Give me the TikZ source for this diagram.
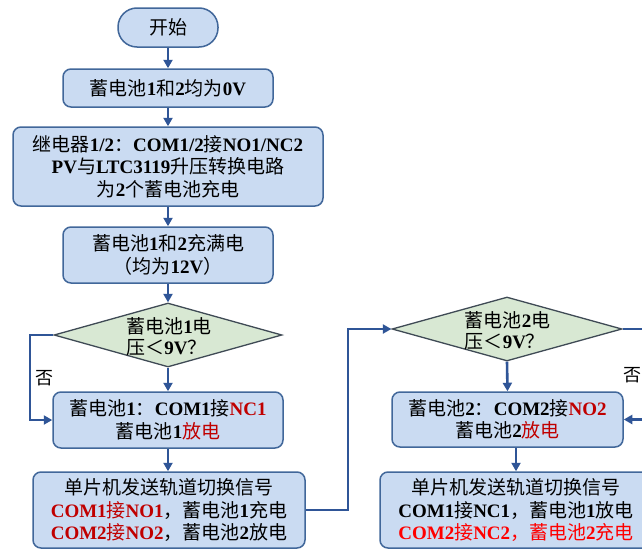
\documentclass[tikz,border=0pt]{standalone}
\usepackage{fontspec}
\setmainfont{Liberation Serif}
\newfontfamily\cjkfont{Noto Sans CJK SC}
\usetikzlibrary{arrows.meta,shapes.geometric}
\XeTeXinterchartokenstate=1
\newXeTeXintercharclass\CJKcls
\newcount\cjkcnt
\cjkcnt="4E00
\loop \XeTeXcharclass\cjkcnt=\CJKcls \advance\cjkcnt by 1 \ifnum\cjkcnt<"A000 \repeat
\cjkcnt="3000
\loop \XeTeXcharclass\cjkcnt=\CJKcls \advance\cjkcnt by 1 \ifnum\cjkcnt<"3040 \repeat
\cjkcnt="FF00
\loop \XeTeXcharclass\cjkcnt=\CJKcls \advance\cjkcnt by 1 \ifnum\cjkcnt<"FFF0 \repeat
\newcommand\zhfont{\cjkfont\mdseries}
\newcommand\enfont{\rmfamily\bfseries}
\XeTeXinterchartoks 0 \CJKcls = {\zhfont}
\XeTeXinterchartoks 4095 \CJKcls = {\zhfont}
\XeTeXinterchartoks \CJKcls 0 = {\enfont}
\XeTeXinterchartoks \CJKcls 4095 = {\enfont}
\definecolor{boxfill}{HTML}{CADBF2}
\definecolor{boxline}{HTML}{41679A}
\definecolor{arrowc}{HTML}{2F5597}
\definecolor{dfill}{HTML}{D8E8D3}
\definecolor{dline}{HTML}{3F4A55}
\definecolor{dred}{HTML}{C00000}
\tikzset{
  txt/.style={font={\fontsize{19}{22.5}\selectfont\enfont}},
  box/.style={txt, draw=boxline, line width=1.5pt, fill=boxfill, rounded corners=8pt, align=center, inner sep=0pt},
  term/.style={box, rounded corners=19pt},
  dia/.style={diamond, draw=dline, line width=1.3pt, fill=dfill, inner sep=0pt},
  dtext/.style={txt, align=left, inner sep=0pt, font={\fontsize{19}{21}\selectfont\enfont}},
  lbl/.style={txt, inner sep=0pt, font={\fontsize{18}{20}\selectfont\zhfont}},
  arr/.style={draw=arrowc, line width=2.6pt, -{Triangle[length=8.5pt,width=9pt]}}
}
\begin{document}
\begin{tikzpicture}[x=1pt,y=-1pt]
\clip (0,0) rectangle (642,549);
\fill[white] (0,0) rectangle (642,549);
\node[term, minimum width=100pt, minimum height=39pt] (start) at (168,27.5) {开始};
\node[box, minimum width=210pt, minimum height=38pt] (b2) at (168,88) {蓄电池1和2均为0V};
\node[box, minimum width=310pt, minimum height=79pt] (b3) at (168,166.5) {继电器1/2：COM1/2接NO1/NC2\\PV与LTC3119升压转换电路\\为2个蓄电池充电};
\node[box, minimum width=210pt, minimum height=56pt] (b4) at (168,255) {蓄电池1和2充满电\\（均为12V）};
\node[dia, minimum width=228pt, minimum height=64pt] (d1) at (168,335) {};
\node[dtext] (d1t) at (169,337) {蓄电池1电\\压＜9V？};
\node[box, minimum width=230pt, minimum height=56pt] (b5) at (168,420) {蓄电池1：COM1接\textcolor{dred}{NC1}\\蓄电池1\textcolor{dred}{放电}};
\node[box, minimum width=272pt, minimum height=76pt] (b6) at (169,510) {单片机发送轨道切换信号\\\textcolor{dred}{COM1接NO1}，蓄电池1充电\\\textcolor{dred}{COM2接NO2}，蓄电池2放电};
\node[dia, minimum width=230pt, minimum height=64pt] (d2) at (507,329) {};
\node[dtext] (d2t) at (507.5,331) {蓄电池2电\\压＜9V？};
\node[box, minimum width=231pt, minimum height=55pt] (b7) at (507.5,419.5) {蓄电池2：COM2接\textcolor{dred}{NO2}\\蓄电池2\textcolor{dred}{放电}};
\node[box, minimum width=272pt, minimum height=76pt] (b8) at (516,510) {单片机发送轨道切换信号\\COM1接NC1，蓄电池1放电\\\textcolor{red}{COM2接NC2，蓄电池2充电}};
\node[lbl] (no1) at (44,378) {否};
\node[lbl] (no2) at (632,375) {否};
\coordinate (jl) at (30,0);
\coordinate (jm) at (348,0);
\coordinate (jr) at (650,0);
\draw[arr] (start.south) -- (b2.north);
\draw[arr] (b2.south) -- (b3.north);
\draw[arr] (b3.south) -- (b4.north);
\draw[arr] (b4.south) -- (d1.north);
\draw[arr] (d1.south) -- (b5.north);
\draw[arr] (b5.south) -- (b6.north -| b5.south);
\draw[arr] (d1.west) -- (d1.west -| jl) |- (b5.west);
\draw[arr] (b6.east) -- (b6.east -| jm) |- (d2.west);
\draw[arr] (d2.south) -- (b7.north);
\draw[arr] (b8.north |- b7.south) -- (b8.north);
\draw[arr] (d2.east) -- (d2.east -| jr) |- (b7.east);
\end{tikzpicture}
\end{document}
